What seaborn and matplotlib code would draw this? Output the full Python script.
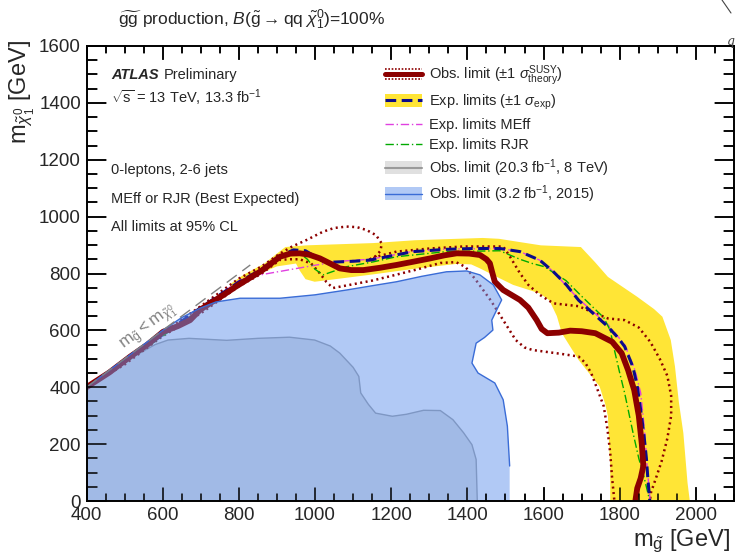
import matplotlib
matplotlib.use('Agg')
import matplotlib.pyplot as plt
import matplotlib.transforms as mtrans
from matplotlib.lines import Line2D
from matplotlib.patches import Rectangle
from matplotlib.legend_handler import HandlerBase
from matplotlib.ticker import MultipleLocator
import seaborn as sns

# observed limit, 13.3 fb-1
obs_x = [400, 460, 514, 560, 601, 640, 672, 698, 730, 759, 790, 820, 860, 908, 935, 960, 985, 1013,
         1040, 1065, 1095, 1127, 1170, 1214, 1260, 1302, 1340, 1372, 1405, 1433, 1450, 1459, 1465,
         1472, 1494, 1538, 1560, 1582, 1595, 1610, 1640, 1670, 1700, 1736, 1780, 1805, 1822, 1838,
         1850, 1858, 1862, 1855, 1846, 1841]
obs_y = [400, 452, 507, 550, 595, 615, 636, 672, 700, 724, 752, 777, 810, 859, 870, 871, 866, 853,
         835, 818, 812, 812, 820, 830, 842, 853, 864, 871, 870, 865, 850, 836, 805,
         771, 742, 707, 680, 636, 605, 590, 592, 599, 597, 590, 560, 520, 460, 390,
         300, 200, 123, 80, 45, 0]

# observed +1 sigma theory
obs_up_x = [400, 500, 600, 700, 800, 860, 908, 940, 978, 1021, 1050, 1083, 1110, 1135, 1160, 1175,
            1172, 1160, 1144, 1170, 1214, 1302, 1389, 1494, 1512, 1525, 1538, 1560, 1590, 1626,
            1692, 1725, 1769, 1813, 1850, 1880, 1905, 1925, 1935, 1935, 1925, 1910, 1895, 1882, 1879]
obs_up_y = [400, 492, 590, 685, 782, 825, 870, 895, 918, 947, 960, 965, 963, 953, 935, 906,
            880, 862, 850, 862, 877, 888, 895, 895, 859, 830, 801, 760, 725, 695,
            685, 666, 642, 636, 610, 560, 500, 440, 370, 300, 220, 140, 80, 30, 0]

# observed -1 sigma theory
obs_dn_x = [400, 500, 600, 700, 800, 860, 908, 935, 960, 990, 1013, 1030, 1047, 1087, 1150, 1208,
            1270, 1329, 1370, 1395, 1423, 1461, 1494, 1527, 1550, 1571, 1648, 1692, 1710, 1725,
            1745, 1758, 1768, 1775, 1780, 1786]
obs_dn_y = [400, 480, 580, 660, 755, 800, 848, 850, 850, 835, 800, 770, 749, 759, 775, 794,
            815, 837, 840, 823, 776, 706, 636, 566, 540, 531, 517, 508, 485, 450,
            380, 333, 250, 169, 80, 0]

# expected limit (best expected)
exp_x = [400, 500, 600, 700, 800, 860, 900, 943, 975, 1000, 1020, 1047, 1100, 1144, 1200, 1258,
         1345, 1420, 1485, 1538, 1590, 1626, 1660, 1692, 1730, 1769, 1795, 1813, 1835, 1846,
         1855, 1863, 1870, 1874, 1879]
exp_y = [400, 490, 585, 680, 770, 815, 855, 883, 880, 860, 845, 840, 843, 847, 862, 877,
         885, 888, 888, 877, 847, 806, 760, 706, 660, 613, 575, 543, 470, 403,
         320, 239, 150, 76, 0]

# expected +-1 sigma band
band_up_x = [780, 812, 867, 900, 922, 977, 1065, 1153, 1263, 1373, 1440, 1483, 1540, 1593, 1698,
             1735, 1769, 1846, 1890, 1912, 1934, 1945, 1955, 1967, 1978, 1984]
band_up_y = [765, 795, 835, 870, 893, 899, 903, 907, 917, 922, 925, 922, 910, 899, 893,
             840, 788, 718, 675, 648, 566, 473, 350, 239, 64, 0]
band_dn_x = [780, 830, 900, 950, 960, 975, 999, 1065, 1153, 1263, 1373, 1410, 1433, 1485, 1520,
             1590, 1615, 1635, 1648, 1692, 1747, 1762, 1769, 1772, 1775, 1775]
band_dn_y = [745, 785, 825, 835, 810, 780, 771, 782, 797, 817, 834, 832, 818, 783, 760,
             730, 706, 650, 590, 496, 403, 340, 298, 200, 123, 0]

# expected MEff only
meff_x = [400, 500, 600, 700, 800, 830, 1004, 1065, 1144, 1258, 1345, 1485, 1538, 1590, 1626,
          1692, 1769, 1813, 1840, 1855, 1865, 1872, 1880]
meff_y = [400, 490, 585, 675, 775, 789, 830, 843, 850, 878, 886, 888, 877, 847, 806,
          710, 620, 550, 460, 380, 250, 120, 0]

# expected RJR only
rjr_x = [400, 500, 600, 700, 800, 860, 900, 955, 980, 1000, 1021, 1083, 1153, 1214, 1345, 1485,
         1538, 1571, 1602, 1659, 1700, 1758, 1775, 1786, 1800, 1813, 1835, 1850, 1863, 1879]
rjr_y = [400, 485, 580, 675, 770, 815, 852, 876, 850, 815, 795, 824, 841, 859, 877, 880,
         850, 835, 824, 775, 720, 645, 600, 531, 450, 379, 239, 150, 88, 0]

# 2015 observed limit (3.2 fb-1), closed region
r15_x = [400, 500, 600, 650, 698, 740, 803, 908, 1000, 1083, 1150, 1214, 1280, 1345, 1398, 1433,
         1468, 1490, 1477, 1464, 1467, 1445, 1423, 1412, 1428, 1472, 1494, 1505, 1511, 1511, 400]
r15_y = [400, 500, 600, 645, 678, 700, 713, 713, 725, 742, 757, 771, 790, 806, 809, 795,
         760, 707, 672, 636, 601, 575, 555, 485, 450, 415, 356, 263, 123, 0, 0]

# 8 TeV observed limit (20.3 fb-1), closed region
r8_x = [400, 500, 580, 614, 669, 768, 850, 933, 999, 1040, 1065, 1100, 1115, 1120, 1140, 1159,
        1203, 1240, 1285, 1329, 1362, 1390, 1412, 1423, 1426, 400]
r8_y = [400, 490, 550, 566, 572, 565, 572, 576, 566, 545, 520, 470, 438, 380, 340, 309,
        298, 305, 319, 318, 286, 240, 198, 146, 0, 0]

# kinematic limit
diag_x = [400, 830]
diag_y = [400, 830]

OBS = '#8c0000'
EXP = '#0c0c8a'
MEFF = '#e040e0'
RJR = '#00aa00'
YEL = '#ffe536'
BLUE = '#6495ed'
BLUE_LINE = '#3a6cd6'
GREY = '#e0e0e0'
GREY_LINE = '#9a9a9a'


class Entry:
    def __init__(self, line, lw=1.0, ls='-', band=None, band_alpha=1.0, dotted=False):
        self.line = line
        self.lw = lw
        self.ls = ls
        self.band = band
        self.band_alpha = band_alpha
        self.dotted = dotted


class EntryHandler(HandlerBase):
    def create_artists(self, legend, h, xd, yd, width, height, fontsize, trans):
        arts = []
        y = height / 2 - yd
        x0 = -xd
        if h.band is not None:
            arts.append(Rectangle((x0, y - 0.42 * height), width, 0.84 * height, facecolor=h.band,
                                  alpha=h.band_alpha, lw=0, transform=trans))
        if h.dotted:
            for dy in (0.33 * height, -0.33 * height):
                arts.append(Line2D([x0, x0 + width], [y + dy, y + dy], color=h.line, lw=1.2,
                                   ls=(0, (1, 1)), transform=trans))
        arts.append(Line2D([x0, x0 + width], [y, y], color=h.line, lw=h.lw, ls=h.ls, transform=trans))
        return arts


def frame_ticks(ax):
    # inward ticks on all four sides, drawn as short lines
    fw, fh = 737.0, 556.0
    aw = ax.get_position().width * fw
    ah = ax.get_position().height * fh
    tx = mtrans.blended_transform_factory(ax.transData, ax.transAxes)
    ty = mtrans.blended_transform_factory(ax.transAxes, ax.transData)
    for v in range(400, 2101, 50):
        ln = (13 if v % 200 == 0 else 7) / ah
        for a, b in ((0, ln), (1, 1 - ln)):
            ax.plot([v, v], [a, b], transform=tx, color='black', lw=1.1, clip_on=False, zorder=10)
    for v in range(0, 1601, 50):
        ln = (19 if v % 200 == 0 else 10) / aw
        for a, b in ((0, ln), (1, 1 - ln)):
            ax.plot([a, b], [v, v], transform=ty, color='black', lw=1.1, clip_on=False, zorder=10)


sns.set_theme(style='ticks')
plt.rcParams['font.family'] = ['Liberation Sans', 'DejaVu Sans']
plt.rcParams['mathtext.fontset'] = 'custom'
plt.rcParams['mathtext.rm'] = 'Liberation Sans'
plt.rcParams['mathtext.it'] = 'Liberation Sans:italic'

fig = plt.figure(figsize=(7.37, 5.56), dpi=100)
ax = fig.add_axes([86.5 / 737, 1 - 501 / 556, (734 - 86.5) / 737, 455 / 556])

ax.fill(band_up_x + band_dn_x[::-1], band_up_y + band_dn_y[::-1], color=YEL, lw=0, zorder=1)
ax.fill(r8_x, r8_y, facecolor=GREY, edgecolor=GREY_LINE, lw=1, zorder=1.5)

sns.lineplot(x=obs_up_x, y=obs_up_y, sort=False, estimator=None, ax=ax, color=OBS, lw=1.8,
             linestyle=(0, (0.8, 1.4)), zorder=3)
sns.lineplot(x=obs_dn_x, y=obs_dn_y, sort=False, estimator=None, ax=ax, color=OBS, lw=1.8,
             linestyle=(0, (0.8, 1.4)), zorder=3)
sns.lineplot(x=meff_x, y=meff_y, sort=False, estimator=None, ax=ax, color=MEFF, lw=1,
             linestyle=(0, (6, 2, 1, 2)), zorder=3)
sns.lineplot(x=rjr_x, y=rjr_y, sort=False, estimator=None, ax=ax, color=RJR, lw=1,
             linestyle=(0, (6, 2, 1, 2)), zorder=3)
sns.lineplot(x=exp_x, y=exp_y, sort=False, estimator=None, ax=ax, color=EXP, lw=2.2,
             linestyle=(0, (3.5, 1.8)), zorder=4)
sns.lineplot(x=obs_x, y=obs_y, sort=False, estimator=None, ax=ax, color=OBS, lw=4.2, zorder=5)

ax.fill(r15_x, r15_y, facecolor=BLUE, alpha=0.5, lw=0, zorder=6)
ax.plot(r15_x[:-2], r15_y[:-2], color=BLUE_LINE, lw=1, zorder=6)

ax.plot(diag_x, diag_y, color='#808080', lw=1, ls=(0, (9, 5)), zorder=7)
ax.text(562, 612, r'$\mathrm{m}_{\tilde{\mathrm{g}}} < \mathrm{m}_{\tilde{\chi}^{0}_{1}}$', color='#808080',
        fontsize=12.5, rotation=36.7, ha='center', va='center', rotation_mode='anchor', zorder=7)

ax.set_xlim(400, 2100)
ax.set_ylim(0, 1600)
ax.xaxis.set_major_locator(MultipleLocator(200))
ax.xaxis.set_minor_locator(MultipleLocator(50))
ax.yaxis.set_major_locator(MultipleLocator(200))
ax.yaxis.set_minor_locator(MultipleLocator(50))
for sp in ax.spines.values():
    sp.set_linewidth(1.4)
    sp.set_color('black')
    sp.set_zorder(10)

fig.text(730 / 737, 1 - 541 / 556, r'm$_{\tilde{\mathrm{g}}}$ [GeV]', ha='right', va='center', fontsize=17)
fig.text(22 / 737, 1 - 40 / 556, r'm$_{\tilde{\chi}^{0}_{1}}$ [GeV]', ha='center', va='top',
         rotation=90, fontsize=17)
fig.text(118 / 737, 1 - 20 / 556,
         r'$\widetilde{\mathrm{gg}}$ production, $B(\tilde{\mathrm{g}}\rightarrow\mathrm{qq}\;\tilde{\chi}^{0}_{1})$=100%',
         ha='left', va='center', fontsize=12.5)
fig.text(731 / 737, 1 - 42 / 556, 'q', ha='center', va='center', fontsize=9, style='italic',
         family='DejaVu Serif', color='#444444')
fig.add_artist(Line2D([722 / 737, 731 / 737], [1.0, 1 - 13 / 556], color='#444444', lw=0.8))

tx = 111 / 737
atlas = fig.text(tx, 1 - 75 / 556, 'ATLAS', fontsize=10.5, fontweight='bold', style='italic',
                 va='center')
ax.annotate('Preliminary', xy=(1, 0.5), xycoords=atlas, xytext=(4, 0), textcoords='offset points',
            va='center', fontsize=10.5)
fig.text(tx, 1 - 98 / 556, r'$\sqrt{\mathrm{s}}$ = 13 TeV, 13.3 fb$^{-1}$', fontsize=10.5, va='center')
fig.text(tx, 1 - 170 / 556, '0-leptons, 2-6 jets', fontsize=10.5, va='center')
fig.text(tx, 1 - 199 / 556, 'MEff or RJR (Best Expected)', fontsize=10.5, va='center')
fig.text(tx, 1 - 227 / 556, 'All limits at 95% CL', fontsize=10.5, va='center')

handles = [
    Entry(OBS, lw=3.6, dotted=True),
    Entry(EXP, lw=2.2, ls=(0, (3.5, 1.8)), band=YEL),
    Entry(MEFF, lw=1, ls=(0, (6, 2, 1, 2))),
    Entry(RJR, lw=1, ls=(0, (6, 2, 1, 2))),
    Entry(GREY_LINE, lw=1.5, band=GREY),
    Entry(BLUE_LINE, lw=1, band=BLUE, band_alpha=0.5),
]
labels = [
    r'Obs. limit ($\pm$1 $\sigma^{\mathrm{SUSY}}_{\mathrm{theory}}$)',
    r'Exp. limits ($\pm$1 $\sigma_{\mathrm{exp}}$)',
    'Exp. limits MEff',
    'Exp. limits RJR',
    r'Obs. limit (20.3 fb$^{-1}$, 8 TeV)',
    r'Obs. limit (3.2 fb$^{-1}$, 2015)',
]
ax.legend(handles, labels, handler_map={Entry: EntryHandler()}, loc='upper left',
          bbox_to_anchor=(0.461, 0.962), frameon=False, fontsize=10.5, borderpad=0,
          borderaxespad=0, handlelength=2.53, handleheight=1.25, handletextpad=0.48,
          labelspacing=0.32)

ax.tick_params(which='both', direction='in', top=True, right=True, width=1.1, color='black',
               labelsize=13.5)
ax.tick_params(axis='x', which='major', length=10, pad=4)
ax.tick_params(axis='x', which='minor', length=5)
ax.tick_params(axis='y', which='major', length=14, pad=4)
ax.tick_params(axis='y', which='minor', length=7)
frame_ticks(ax)

fig.savefig('out.png', dpi=100)
